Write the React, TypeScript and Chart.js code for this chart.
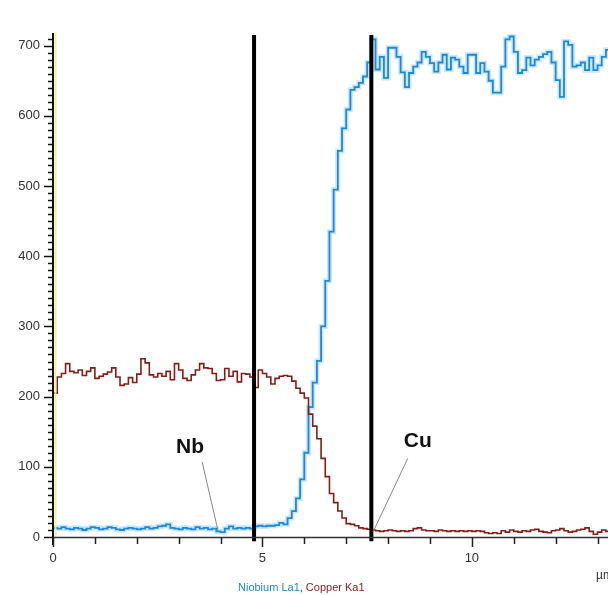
import React, { useEffect, useRef } from 'react';
import { Chart, registerables } from 'chart.js';

Chart.register(...registerables);

// Line-scan sample spacing (µm) and series
const stepUm = 0.1;

const niobium = [
  13, 12, 14, 12, 11, 13, 12, 10, 12, 14,
  13, 11, 12, 14, 13, 11, 10, 12, 13, 12,
  11, 12, 14, 12, 13, 15, 16, 18, 13, 12,
  11, 13, 12, 11, 14, 12, 13, 11, 12, 8,
  7, 12, 15, 12, 13, 12, 13, 12, 15, 16,
  15, 16, 16, 17, 20, 18, 27, 37, 55, 82,
  120, 185, 220, 251, 300, 365, 435, 495, 550, 582,
  609, 637, 641, 647, 656, 676, 709, 666, 684, 654,
  697, 697, 684, 662, 641, 661, 670, 676, 691, 684,
  675, 663, 676, 687, 666, 683, 680, 670, 661, 687,
  687, 661, 675, 663, 650, 633, 633, 670, 709, 713,
  691, 661, 665, 683, 672, 680, 684, 688, 691, 676,
  651, 627, 706, 701, 670, 672, 676, 665, 683, 665,
  672, 684, 694, 690,
];

const copper = [
  205, 228, 233, 247, 236, 234, 238, 230, 236, 241,
  226, 229, 232, 235, 241, 228, 216, 218, 227, 220,
  232, 254, 248, 231, 228, 233, 229, 236, 224, 247,
  238, 226, 223, 231, 238, 247, 241, 240, 233, 223,
  224, 240, 229, 236, 221, 233, 232, 228, 213, 238,
  233, 228, 218, 226, 229, 230, 229, 222, 212, 205,
  198, 175, 158, 140, 112, 86, 62, 49, 37, 27,
  19, 18, 16, 13, 12, 11, 10, 9, 8, 9,
  10, 9, 8, 9, 8, 9, 12, 13, 10, 9,
  9, 8, 10, 9, 8, 9, 8, 9, 8, 9,
  8, 9, 8, 6, 5, 6, 5, 9, 7, 10,
  8, 7, 9, 8, 10, 11, 8, 7, 6, 9,
  10, 12, 9, 7, 8, 10, 11, 13, 8, 4,
  7, 10, 8, 9,
];

const distance = niobium.map((_, i) => Math.round(i * stepUm * 10) / 10);

// Interface markers (µm)
const markerLines = [4.8, 7.6];
const markerTop = 715;
const markerBottom = -6;

// Element labels with leader lines
const labelNames = ['Nb', 'Cu'];
const labelText = [[3.27, 128], [8.71, 137]];
const labelLineFrom = [[3.56, 107], [8.47, 112]];
const labelLineTo = [[3.94, 9], [7.64, 7]];

const seriesNames = ['Niobium La1', 'Copper Ka1'];
const axisUnit = 'µm';

const yMin = 0;
const yMax = 718;
const xMin = 0;
const xMax = 13.25;

const BLUE = '#1c8ad8';
const RED = '#861d15';

const overlay = {
  id: 'overlay',
  afterDraw(chart: any) {
    const { ctx, chartArea, scales } = chart;
    const xs = scales.x;
    const ys = scales.y;
    const left = chartArea.left;
    const bottom = ys.getPixelForValue(0);
    ctx.save();

    ctx.strokeStyle = 'rgba(240,236,150,0.9)';
    ctx.lineWidth = 2;
    ctx.beginPath();
    ctx.moveTo(left + 2.5, chartArea.top);
    ctx.lineTo(left + 2.5, bottom);
    ctx.stroke();

    ctx.strokeStyle = '#111';
    ctx.lineWidth = 2;
    ctx.beginPath();
    ctx.moveTo(left, chartArea.top);
    ctx.lineTo(left, bottom + 8);
    ctx.stroke();

    ctx.lineWidth = 1.5;
    for (let v = 0; v <= 710; v += 10) {
      const y = Math.round(ys.getPixelForValue(v)) + 0.5;
      const len = v % 100 === 0 ? 9 : 5;
      ctx.beginPath();
      ctx.moveTo(left - len, y);
      ctx.lineTo(left, y);
      ctx.stroke();
    }

    ctx.lineWidth = 1.5;
    ctx.strokeStyle = '#333';
    ctx.beginPath();
    ctx.moveTo(left, bottom + 0.5);
    ctx.lineTo(chartArea.right, bottom + 0.5);
    ctx.stroke();

    ctx.strokeStyle = '#222';
    for (let v = 0; v <= 13; v += 1) {
      const x = Math.round(xs.getPixelForValue(v)) + 0.5;
      ctx.beginPath();
      ctx.moveTo(x, bottom);
      ctx.lineTo(x, bottom + (v % 5 === 0 ? 10 : 7));
      ctx.stroke();
    }

    for (let i = 0; i < labelNames.length; i++) {
      ctx.strokeStyle = '#888';
      ctx.lineWidth = 1;
      ctx.beginPath();
      ctx.moveTo(xs.getPixelForValue(labelLineFrom[i][0]), ys.getPixelForValue(labelLineFrom[i][1]));
      ctx.lineTo(xs.getPixelForValue(labelLineTo[i][0]), ys.getPixelForValue(labelLineTo[i][1]));
      ctx.stroke();
      ctx.fillStyle = '#111';
      ctx.font = 'bold 21px "Liberation Sans", Arial, sans-serif';
      ctx.textAlign = 'center';
      ctx.textBaseline = 'middle';
      ctx.fillText(labelNames[i], xs.getPixelForValue(labelText[i][0]), ys.getPixelForValue(labelText[i][1]));
    }

    ctx.font = '12px "Liberation Sans", Arial, sans-serif';
    ctx.fillStyle = '#333';
    ctx.textAlign = 'left';
    ctx.textBaseline = 'alphabetic';
    ctx.fillText(axisUnit, 596, 579);

    ctx.font = '11px "Liberation Sans", Arial, sans-serif';
    let lx = 238;
    const ly = 591;
    ctx.fillStyle = BLUE;
    ctx.fillText(seriesNames[0], lx, ly);
    lx += ctx.measureText(seriesNames[0]).width;
    ctx.fillStyle = '#335';
    ctx.fillText(', ', lx, ly);
    lx += ctx.measureText(', ').width;
    ctx.fillStyle = RED;
    ctx.fillText(seriesNames[1], lx, ly);

    ctx.restore();
  },
};

export default function App() {
  const ref = useRef<HTMLCanvasElement | null>(null);

  useEffect(() => {
    document.body.style.margin = '0';
    document.body.style.background = '#ffffff';
    const canvas = ref.current;
    if (!canvas) return;

    const nbPts = niobium.map((v, i) => ({ x: distance[i], y: v }));
    const cuPts = copper.map((v, i) => ({ x: distance[i], y: v }));

    const markerSets = markerLines.map((m) => ({
      label: 'marker',
      data: [
        { x: m, y: markerBottom },
        { x: m, y: markerTop },
      ],
      borderColor: '#000',
      borderWidth: 4,
      pointRadius: 0,
      clip: false as any,
    }));

    const chart = new Chart(canvas, {
      type: 'line',
      data: {
        datasets: [
          ...markerSets,
          {
            label: seriesNames[1],
            data: cuPts,
            borderColor: RED,
            borderWidth: 1.6,
            pointRadius: 0,
            stepped: true,
          },
          {
            label: seriesNames[0],
            data: nbPts,
            borderColor: BLUE,
            borderWidth: 1.8,
            pointRadius: 0,
            stepped: true,
          },
          {
            label: 'glow',
            data: nbPts,
            borderColor: 'rgba(110,185,240,0.35)',
            borderWidth: 5,
            pointRadius: 0,
            stepped: true,
          },
        ],
      },
      options: {
        animation: false,
        responsive: false,
        layout: { padding: { top: 33, right: 0, left: 0, bottom: 0 }, autoPadding: false },
        plugins: {
          legend: { display: false },
          tooltip: { enabled: false },
        },
        scales: {
          x: {
            type: 'linear',
            min: xMin,
            max: xMax,
            grid: { display: false },
            border: { display: false },
            ticks: {
              stepSize: 5,
              includeBounds: false,
              autoSkip: false,
              maxRotation: 0,
              padding: 6,
              color: '#333',
              font: { family: '"Liberation Sans", Arial, sans-serif', size: 13 },
              callback: (v: any) => (Number(v) % 5 === 0 ? String(v) : ''),
            },
            afterFit: (s: any) => {
              s.height = 58;
              s.paddingRight = 0;
              s.paddingLeft = 0;
            },
          },
          y: {
            type: 'linear',
            min: yMin,
            max: yMax,
            grid: { display: false },
            border: { display: false },
            ticks: {
              stepSize: 100,
              includeBounds: false,
              autoSkip: false,
              padding: 5,
              color: '#333',
              font: { family: '"Liberation Sans", Arial, sans-serif', size: 13 },
              callback: (v: any) => (Number(v) % 100 === 0 ? String(v) : ''),
            },
            afterFit: (s: any) => {
              s.width = 53;
              s.paddingTop = 0;
              s.paddingBottom = 0;
            },
          },
        },
      },
      plugins: [overlay],
    });

    return () => chart.destroy();
  }, []);

  return <canvas ref={ref} width={608} height={595} style={{ display: 'block' }} />;
}
